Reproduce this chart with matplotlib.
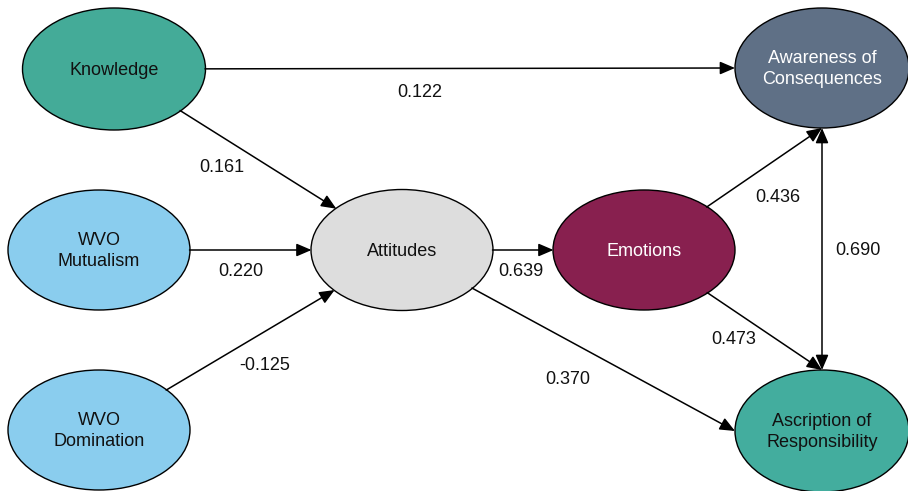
import matplotlib.pyplot as plt
from matplotlib.patches import Ellipse, FancyArrowPatch

plt.rcParams['font.family'] = ['Liberation Sans', 'DejaVu Sans']

# node names (display text) and fill colours
nodes = ['Knowledge', 'Mutualism', 'Domination', 'Attitudes', 'Emotions',
         'Awareness', 'Ascription']
node_text = ['Knowledge', 'WVO\nMutualism', 'WVO\nDomination', 'Attitudes', 'Emotions',
             'Awareness of\nConsequences', 'Ascription of\nResponsibility']

# path coefficients: (source, target, coefficient)
edges_src = ['Knowledge', 'Knowledge', 'Mutualism', 'Domination', 'Attitudes',
             'Attitudes', 'Emotions', 'Emotions']
edges_dst = ['Awareness', 'Attitudes', 'Attitudes', 'Attitudes', 'Emotions',
             'Ascription', 'Awareness', 'Ascription']
coefs = ['0.122', '0.161', '0.220', '-0.125', '0.639', '0.370', '0.436', '0.473']
corr_pair = ('Awareness', 'Ascription')
corr_coef = '0.690'

# layout (pixel coords, y down)
pos = {
    'Knowledge': (114, 69), 'Mutualism': (99, 250), 'Domination': (99, 430),
    'Attitudes': (402, 250), 'Emotions': (644, 250),
    'Awareness': (822, 68), 'Ascription': (822, 431),
}
size = {
    'Knowledge': (183, 122), 'Mutualism': (182, 120), 'Domination': (182, 120),
    'Attitudes': (182, 121), 'Emotions': (182, 120),
    'Awareness': (174, 120), 'Ascription': (174, 122),
}
fill = {
    'Knowledge': '#44ab98', 'Mutualism': '#8acdee', 'Domination': '#8acdee',
    'Attitudes': '#dddddd', 'Emotions': '#88204f',
    'Awareness': '#5f7086', 'Ascription': '#43ad9e',
}
txt_col = {'Emotions': 'white', 'Awareness': 'white'}
# where an edge meets its target: ellipse border toward centre, or a fixed side point
anchor = {('Knowledge', 'Awareness'): 'left', ('Attitudes', 'Ascription'): 'left',
          ('Emotions', 'Awareness'): 'bottom', ('Emotions', 'Ascription'): 'top'}
label_pos = [(420, 92), (222, 167), (241, 272), (265, 365), (521, 272),
             (568, 379), (778, 198), (734, 340)]

fig = plt.figure(figsize=(9.08, 4.91), dpi=100)
ax = fig.add_axes([0, 0, 1, 1])
ax.set_xlim(0, 908)
ax.set_ylim(491, 0)
ax.axis('off')

patches = {}
for n, t in zip(nodes, node_text):
    w, h = size[n]
    e = Ellipse(pos[n], w, h, facecolor=fill[n], edgecolor='black', lw=1.0, zorder=2)
    ax.add_patch(e)
    patches[n] = e
    ax.text(pos[n][0], pos[n][1] + 1, t, ha='center', va='center', fontsize=13,
            color=txt_col.get(n, '#111111'), linespacing=1.3, zorder=4)


def side_point(n, side):
    x, y = pos[n]
    w, h = size[n]
    return {'left': (x - w / 2, y), 'top': (x, y - h / 2), 'bottom': (x, y + h / 2)}[side]


style = '-|>,head_length=0.7,head_width=0.3'
for s, d in zip(edges_src, edges_dst):
    side = anchor.get((s, d))
    if side:
        end = side_point(d, side)
        pB = None
    else:
        end = pos[d]
        pB = patches[d]
    arr = FancyArrowPatch(pos[s], end, patchA=patches[s], patchB=pB,
                          arrowstyle=style, mutation_scale=13, color='black',
                          lw=1.1, shrinkA=0, shrinkB=0, zorder=3)
    ax.add_patch(arr)

for c, (x, y) in zip(coefs, label_pos):
    ax.text(x, y, c, ha='center', va='center', fontsize=13, color='#111111', zorder=4)

a, b = corr_pair
arr = FancyArrowPatch(side_point(a, 'bottom'), side_point(b, 'top'),
                      arrowstyle='<|-|>,head_length=0.7,head_width=0.3',
                      mutation_scale=13, color='black', lw=1.1,
                      shrinkA=0, shrinkB=0, zorder=3)
ax.add_patch(arr)
ax.text(858, 250, corr_coef, ha='center', va='center', fontsize=13, color='#111111')

fig.savefig('out.png', dpi=100)
